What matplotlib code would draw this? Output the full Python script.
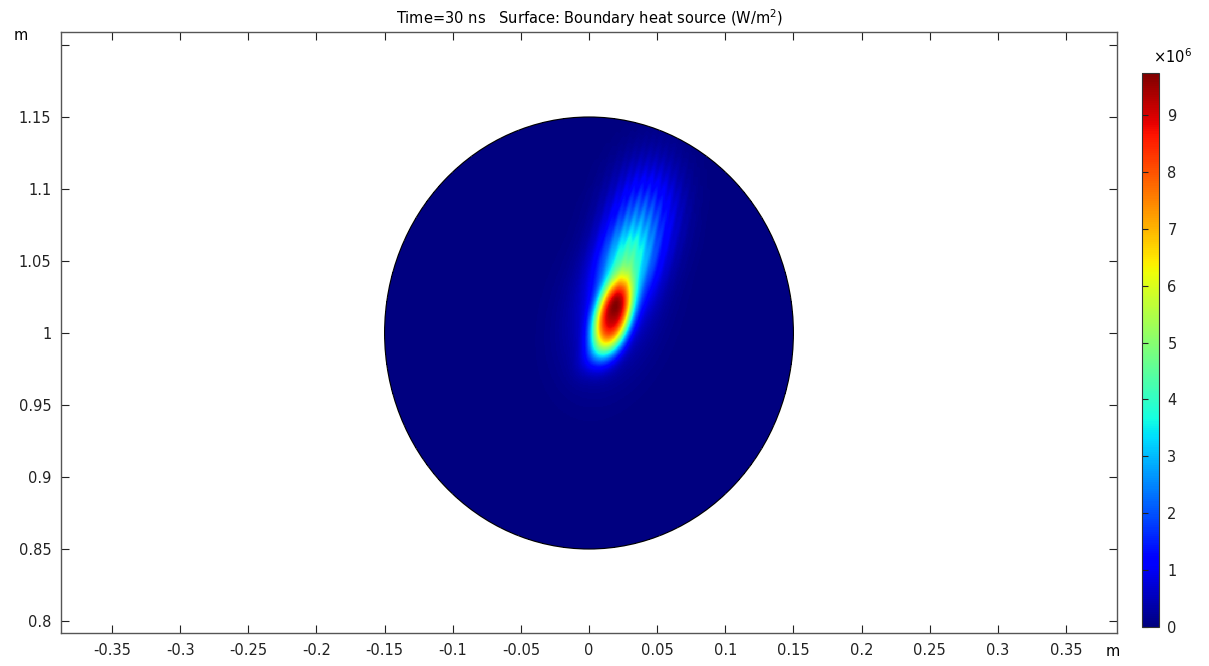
import numpy as np
import matplotlib
matplotlib.use("Agg")
import matplotlib.pyplot as plt
from matplotlib.patches import Circle

# geometry of the disc (m)
disc_center = (0.0, 1.0)
disc_radius = 0.15

# heat source lobes: centre x, centre y, relative amplitude, length sigma,
# width sigma, tilt (deg from vertical), profile exponent
lobe_x = [0.0172, 0.027, 0.039, 0.016, 0.002]
lobe_y = [1.011, 1.046, 1.080, 1.015, 0.984]
lobe_amp = [9.0e6, 3.6e6, 2.0e6, 0.9e6, 0.5e6]
lobe_len = [0.019, 0.021, 0.026, 0.032, 0.010]
lobe_wid = [0.0092, 0.013, 0.017, 0.021, 0.006]
lobe_angle = [18.0, 17.0, 14.0, 20.0, 35.0]
lobe_power = [1.4, 1.0, 1.0, 1.0, 1.0]
streak_period = 0.0055  # faint streaks in the upper plume
peak_value = 9.74e6

x_ticks = [-0.35, -0.3, -0.25, -0.2, -0.15, -0.1, -0.05, 0, 0.05, 0.1, 0.15, 0.2, 0.25, 0.3, 0.35]
y_ticks = [0.8, 0.85, 0.9, 0.95, 1.0, 1.05, 1.1, 1.15, 1.2]
y_labels = ['0.8', '0.85', '0.9', '0.95', '1', '1.05', '1.1', '1.15', '']
cbar_ticks = [0, 1, 2, 3, 4, 5, 6, 7, 8, 9]

# build surface field
xs = np.linspace(-0.16, 0.16, 800)
ys = np.linspace(0.84, 1.16, 800)
X, Y = np.meshgrid(xs, ys)
Z = np.zeros_like(X)
for i, (cx, cy, a, sl, sw, ang, p) in enumerate(zip(lobe_x, lobe_y, lobe_amp, lobe_len,
                                                   lobe_wid, lobe_angle, lobe_power)):
    th = np.deg2rad(ang)
    dx, dy = X - cx, Y - cy
    s = dx * np.sin(th) + dy * np.cos(th)
    t = dx * np.cos(th) - dy * np.sin(th)
    q = 0.5 * ((s / sl) ** 2 + (t / sw) ** 2)
    part = a * np.exp(-q ** p)
    if i == 2:
        part *= 1 + 0.12 * np.cos(2 * np.pi * t / streak_period)
    Z += part
Z *= peak_value / Z.max()
inside = (X - disc_center[0]) ** 2 + (Y - disc_center[1]) ** 2 <= disc_radius ** 2
Z = np.where(inside, Z, np.nan)

fig = plt.figure(figsize=(12.09, 6.66), dpi=100)
ax = fig.add_axes([61 / 1209, 33 / 666, 1056 / 1209, 601 / 666])
im = ax.pcolormesh(X, Y, Z, cmap='jet', vmin=0, vmax=peak_value, shading='auto', rasterized=True)
ax.add_patch(Circle(disc_center, disc_radius, fill=False, edgecolor='black', linewidth=0.8))

ax.set_xlim(-0.3874, 0.3874)
ax.set_ylim(0.7917, 1.209)
ax.set_aspect('auto')
ax.set_xticks(x_ticks)
ax.set_xticklabels([f'{v:g}' for v in x_ticks])
ax.set_yticks(y_ticks)
ax.set_yticklabels(y_labels)
ax.tick_params(direction='in', length=6, width=0.8, top=True, right=True,
               labelsize=10.5, colors='#222222', pad=7)
for sp in ax.spines.values():
    sp.set_color('#555555')
    sp.set_linewidth(1.0)

ax.set_title('Time=30 ns   Surface: Boundary heat source (W/m$^2$)', fontsize=10.5, pad=6)
fig.text(14 / 1209, 1 - 35 / 666, 'm', fontsize=10.5, ha='left', va='center')
fig.text(1113 / 1209, 1 - 652 / 666, 'm', fontsize=10.5, ha='center', va='center')

cax = fig.add_axes([1142 / 1209, 39 / 666, 17 / 1209, 554 / 666])
cb = fig.colorbar(im, cax=cax)
cb.set_ticks([v * 1e6 for v in cbar_ticks])
cb.set_ticklabels([str(v) for v in cbar_ticks])
cb.ax.tick_params(direction='in', length=4, width=0.8, labelsize=10.5, pad=6,
                  left=True, right=False, colors='#222222')
cb.outline.set_edgecolor('#333333')
cb.outline.set_linewidth(0.8)
fig.text(1172 / 1209, 1 - 57 / 666, r'$\times10^6$', fontsize=10.5, ha='center', va='center')

fig.savefig('out.png', dpi=100)
